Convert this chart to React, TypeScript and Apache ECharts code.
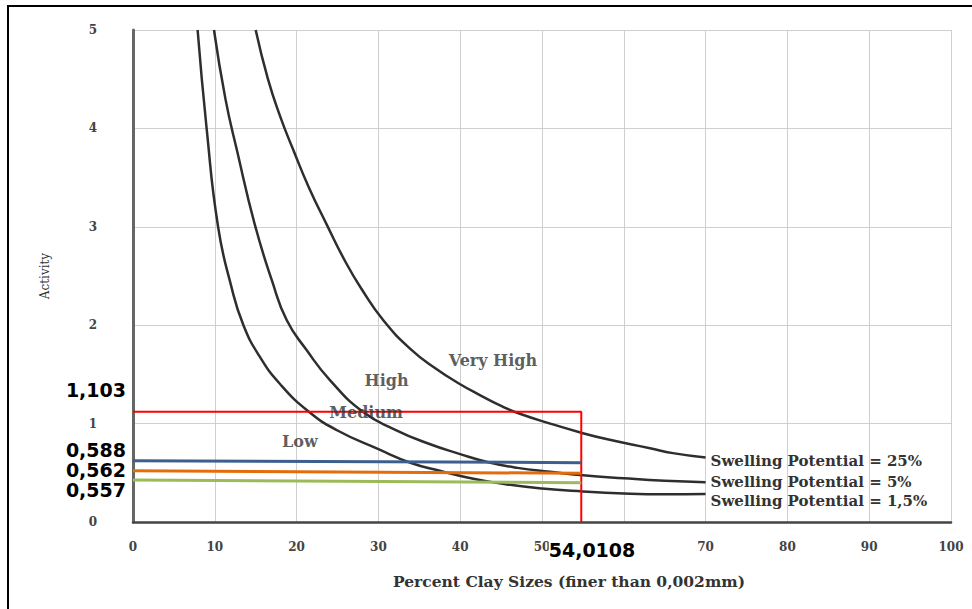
import React, { useEffect, useRef } from "react";
import * as echarts from "echarts";

// Swelling-potential boundary curves: [percent clay, activity]
const curve15: [number, number][] = [
  [7.9, 5.0], [9.0, 4.0], [10.4, 3.0], [12.0, 2.4], [13.5, 2.0], [15.5, 1.68],
  [18.0, 1.4], [21.5, 1.12], [25, 0.93], [30, 0.74], [34, 0.6], [37.5, 0.52],
  [41, 0.45], [45, 0.39], [50, 0.34], [55, 0.31], [60, 0.29], [65, 0.282], [70, 0.285],
];
const curve5: [number, number][] = [
  [9.9, 5.0], [11.3, 4.3], [12.7, 3.78], [14.9, 3.02], [17, 2.45], [18.8, 2.05],
  [21.2, 1.75], [24.1, 1.44], [28.1, 1.12], [32, 0.94], [36, 0.8], [40, 0.69],
  [43.3, 0.61], [47, 0.55], [51, 0.51], [55, 0.475], [60, 0.445], [65, 0.42], [70, 0.405],
];
const curve25: [number, number][] = [
  [15.0, 5.0], [16.5, 4.5], [18, 4.12], [19.6, 3.78], [21.5, 3.4], [23.7, 3.02],
  [26, 2.64], [28, 2.36], [30.6, 2.05], [33.9, 1.76], [37, 1.56], [40, 1.4],
  [42.4, 1.29], [45, 1.18], [47.3, 1.1], [51, 1.0], [54.7, 0.91], [58, 0.84],
  [63.2, 0.75], [66, 0.7], [70, 0.655],
];
const curveNames = [
  "Swelling Potential = 1,5%",
  "Swelling Potential = 5%",
  "Swelling Potential = 25%",
];

// Zone labels
const zoneLabels = ["Low", "Medium", "High", "Very High"];
const zoneX = [20.4, 28.5, 31.0, 44.0];
const zoneY = [0.82, 1.11, 1.44, 1.645];

// Reference lines
const limitX = 54.8;
const limitY = 1.12;
const blueY = [0.623, 0.603];
const orangeY = [0.521, 0.495];
const greenY = [0.427, 0.4];

// Annotation texts
const valueLabels = ["1,103", "0,588", "0,562", "0,557"];
const clayValueLabel = "54,0108";

const serif = "DejaVu Serif";
const annFont = "DejaVu Sans";

export default function App() {
  const ref = useRef<HTMLDivElement>(null);

  useEffect(() => {
    if (!ref.current) return;
    const chart = echarts.init(ref.current, undefined, { renderer: "svg" });

    const curveSeries = [curve15, curve5, curve25].map((d, i) => ({
      type: "line",
      name: curveNames[i],
      data: d,
      smooth: 0.5,
      symbol: "none",
      lineStyle: { color: "#2e2e2e", width: 2.5 },
      z: 3,
      endLabel: {
        show: true,
        formatter: curveNames[i],
        color: "#333",
        fontFamily: serif,
        fontWeight: "bold",
        fontSize: 15,
        distance: 5,
        offset: [0, [7, 0, 3][i]],
      },
    }));

    const refLine = (data: [number, number][], color: string, width: number) => ({
      type: "line",
      data,
      symbol: "none",
      lineStyle: { color, width },
      z: 4,
    });

    const annTexts = [390, 450, 470, 490].map((y, i) => ({
      type: "text",
      x: 126,
      y,
      style: {
        text: valueLabels[i],
        align: "right",
        verticalAlign: "middle",
        fill: "#000",
        font: `bold 19px "${annFont}"`,
      },
      z: 10,
    }));

    chart.setOption({
      animation: false,
      backgroundColor: "#fff",
      grid: { left: 133, top: 30, right: 21, bottom: 87 },
      xAxis: {
        type: "value",
        min: 0,
        max: 100,
        interval: 10,
        name: "Percent Clay Sizes (finer than 0,002mm)",
        nameLocation: "middle",
        nameGap: 51,
        nameTextStyle: {
          fontFamily: serif,
          fontWeight: "bold",
          fontSize: 15.5,
          color: "#333",
          padding: [0, 0, 0, 54],
        },
        axisLine: { show: true, onZero: false, lineStyle: { color: "#444", width: 2.5 } },
        axisTick: { show: false },
        axisLabel: {
          margin: 19,
          fontFamily: serif,
          fontWeight: "bold",
          fontSize: 12,
          color: "#444",
          formatter: (v: number) => (v === 60 ? "" : String(v)),
        },
        splitLine: { show: true, lineStyle: { color: "#cfcfcf", width: 1 } },
      },
      yAxis: {
        type: "value",
        min: 0,
        max: 5,
        interval: 1,
        name: "Activity",
        nameLocation: "middle",
        nameGap: 82,
        nameRotate: 90,
        nameTextStyle: {
          fontFamily: serif,
          fontSize: 12,
          color: "#333",
        },
        axisLine: { show: true, lineStyle: { color: "#666", width: 3 } },
        axisTick: { show: false },
        axisLabel: {
          margin: 36,
          fontFamily: serif,
          fontWeight: "bold",
          fontSize: 12,
          color: "#444",
        },
        splitLine: { show: true, lineStyle: { color: "#cfcfcf", width: 1 } },
      },
      series: [
        ...curveSeries,
        {
          type: "scatter",
          data: zoneLabels.map((t, i) => ({ value: [zoneX[i], zoneY[i]], name: t })),
          symbolSize: 0,
          z: 5,
          label: {
            show: true,
            position: "inside",
            formatter: (p: any) => p.name,
            fontFamily: serif,
            fontWeight: "bold",
            fontSize: 16,
            color: "#333",
          },
        },
        refLine([[0, limitY], [limitX, limitY], [limitX, 0]], "#ff0000", 2),
        refLine([[0, blueY[0]], [limitX, blueY[1]]], "#3d5f8f", 3),
        refLine([[0, orangeY[0]], [limitX, orangeY[1]]], "#e46c0a", 3),
        refLine([[0, greenY[0]], [limitX, greenY[1]]], "#9bbb59", 3),
      ],
      graphic: [
        {
          type: "rect",
          shape: { x: 8, y: 6, width: 1000, height: 700 },
          style: { fill: "none", stroke: "#000", lineWidth: 2 },
          silent: true,
          z: 0,
        },
        ...annTexts,
        {
          type: "text",
          x: 592,
          y: 550,
          style: {
            text: clayValueLabel,
            align: "center",
            verticalAlign: "middle",
            fill: "#000",
            font: `bold 19px "${annFont}"`,
            backgroundColor: "#fff",
          },
          z: 10,
        },
      ],
    });

    return () => chart.dispose();
  }, []);

  return (
    <div
      ref={ref}
      style={{ position: "absolute", left: 0, top: 0, width: 972, height: 609 }}
    />
  );
}
